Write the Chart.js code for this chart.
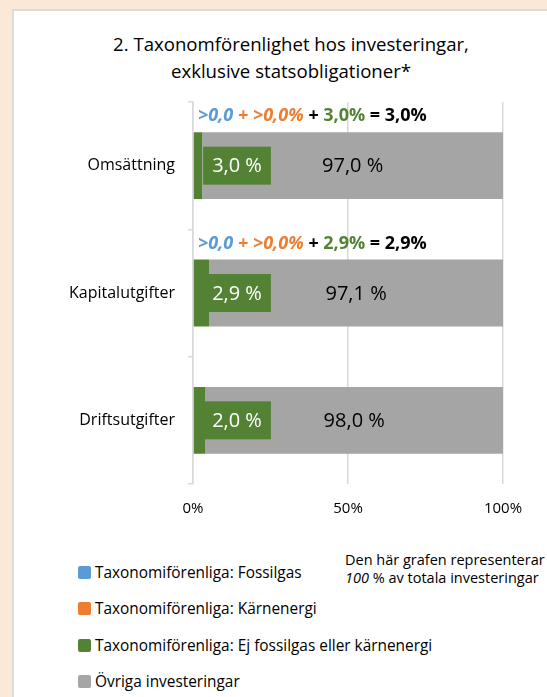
<!DOCTYPE html>
<html>
<head>
<meta charset="utf-8">
<script src="https://cdn.jsdelivr.net/npm/chart.js@4"></script>
<style>
	html, body { margin: 0; padding: 0; }
	body { width: 547px; height: 697px; background: #fbe8d6; position: relative; overflow: hidden; font-family: 'Open Sans', sans-serif; }
	#panel { position: absolute; left: 12px; top: 9px; right: -10px; bottom: -10px; background: #fff; border-left: 2px solid #dcdcdc; border-top: 2px solid #dcdcdc; }
	#title { position: absolute; left: 91px; width: 400px; top: 30px; text-align: center; font-size: 18.6px; line-height: 27px; color: #000; white-space: nowrap; }
	#chart { position: absolute; left: 35px; top: 0; }
	#legend { position: absolute; left: 78px; top: 562px; }
	.leg-item { display: flex; align-items: center; height: 20px; margin-bottom: 16.5px; font-size: 15.4px; color: #000; white-space: nowrap; }
	.leg-box { width: 13px; height: 13px; border-radius: 2px; margin-right: 4px; }
	#note { position: absolute; left: 345px; top: 551px; font-size: 14.5px; line-height: 18px; color: #000; white-space: nowrap; }
</style>
</head>
<body>
<div id="panel"></div>
<div id="title"></div>
<canvas id="chart" width="512" height="540"></canvas>
<div id="legend"></div>
<div id="note">Den här grafen representerar<br><i>100</i> % av totala investeringar</div>

<script>
// ----------------- DATA -----------------
const titleLines = ['2. Taxonomförenlighet hos investeringar,', 'exklusive statsobligationer*'];
const categories = ['Omsättning', 'Kapitalutgifter', 'Driftsutgifter'];
const seriesNames = [
	'Taxonomiförenliga: Fossilgas',
	'Taxonomiförenliga: Kärnenergi',
	'Taxonomiförenliga: Ej fossilgas eller kärnenergi',
	'Övriga investeringar'
];
const fossilVals = [0, 0, 0];
const nuclearVals = [0, 0, 0];
const greenVals = [3.0, 5.2, 4.0];    // bar widths as drawn
const otherVals = [97.0, 94.8, 96.0];
const greenLabels = ['3,0 %', '2,9 %', '2,0 %'];
const otherLabels = ['97,0 %', '97,1 %', '98,0 %'];
const greenLabelPos = 14.2;           // label centre, in % of the axis
const sumLines = [
	['>0,0', '>0,0%', '3,0%', '3,0%'],
	['>0,0', '>0,0%', '2,9%', '2,9%'],
	null
];
const xTicks = [0, 50, 100];

const COLORS = ['#5b9bd5', '#ed7d31', '#548235', '#a5a5a5'];
const FONT = "'Open Sans', sans-serif";

// ----------------- LABEL PLUGIN -----------------
const labelPlugin = {
	id: 'barLabels',
	afterDatasetsDraw(chart) {
		const ctx = chart.ctx;
		const x = chart.scales.x;
		const greenMeta = chart.getDatasetMeta(2);
		const otherMeta = chart.getDatasetMeta(3);
		ctx.save();
		categories.forEach((c, i) => {
			const gBar = greenMeta.data[i];
			const oBar = otherMeta.data[i];

			// green label box
			ctx.font = `20px ${FONT}`;
			const cx = x.getPixelForValue(greenLabelPos);
			const w = ctx.measureText(greenLabels[i]).width + 18;
			ctx.fillStyle = COLORS[2];
			ctx.fillRect(cx - w / 2, gBar.y - 19, w, 38);
			ctx.fillStyle = '#fff';
			ctx.textAlign = 'center';
			ctx.textBaseline = 'middle';
			ctx.fillText(greenLabels[i], cx, gBar.y + 1);

			// grey label
			ctx.fillStyle = '#000';
			ctx.fillText(otherLabels[i], (oBar.base + oBar.x) / 2, oBar.y + 1);

			// sum line above the bar
			const s = sumLines[i];
			if (!s) return;
			const parts = [
				{ t: s[0], c: COLORS[0], it: true },
				{ t: ' + ' + s[1], c: COLORS[1], it: true },
				{ t: ' + ', c: '#000', it: true },
				{ t: s[2], c: COLORS[2], it: false },
				{ t: ' = ' + s[3], c: '#000', it: false }
			];
			let px = chart.chartArea.left + 5;
			const py = gBar.y - gBar.height / 2 - 16;
			ctx.textAlign = 'left';
			parts.forEach(p => {
				ctx.font = `${p.it ? 'italic ' : ''}bold 18px ${FONT}`;
				ctx.fillStyle = p.c;
				ctx.fillText(p.t, px, py);
				px += ctx.measureText(p.t).width;
			});
		});
		ctx.restore();
	}
};

// ----------------- CHART -----------------
document.getElementById('title').innerHTML = titleLines.join('<br>');

const ctx = document.getElementById('chart').getContext('2d');
const chart = new Chart(ctx, {
	type: 'bar',
	data: {
		labels: categories,
		datasets: [fossilVals, nuclearVals, greenVals, otherVals].map((d, i) => ({
			label: seriesNames[i],
			data: d,
			backgroundColor: COLORS[i],
			borderWidth: 0,
			barPercentage: 0.525,
			categoryPercentage: 1
		}))
	},
	options: {
		indexAxis: 'y',
		responsive: false,
		animation: false,
		layout: { padding: { left: 0, right: 44, top: 102, bottom: 0 } },
		plugins: {
			legend: { display: false },
			tooltip: { enabled: false },
			title: { display: false }
		},
		scales: {
			x: {
				stacked: true,
				min: 0,
				max: 100,
				afterBuildTicks: s => { s.ticks = xTicks.map(v => ({ value: v })); },
				ticks: { callback: v => v + '%', color: '#000', padding: 16, font: { family: FONT, size: 15 } },
				grid: { color: '#d9d9d9', lineWidth: 1.5, drawTicks: false },
				border: { display: false },
				afterFit: s => { s.height = 56; }
			},
			y: {
				stacked: true,
				ticks: { color: '#000', padding: 13, font: { family: FONT, size: 16 } },
				grid: { drawOnChartArea: false, drawTicks: true, tickLength: 5, color: '#d9d9d9', lineWidth: 1.5, offset: true },
				border: { display: true, color: '#d9d9d9', width: 1.5 },
				afterFit: s => { s.width = 158; }
			}
		}
	},
	plugins: [labelPlugin]
});

// ----------------- LEGEND -----------------
document.getElementById('legend').innerHTML = chart.data.datasets.map(ds =>
	`<div class="leg-item"><span class="leg-box" style="background:${ds.backgroundColor}"></span>${ds.label}</div>`
).join('');
</script>
</body>
</html>
